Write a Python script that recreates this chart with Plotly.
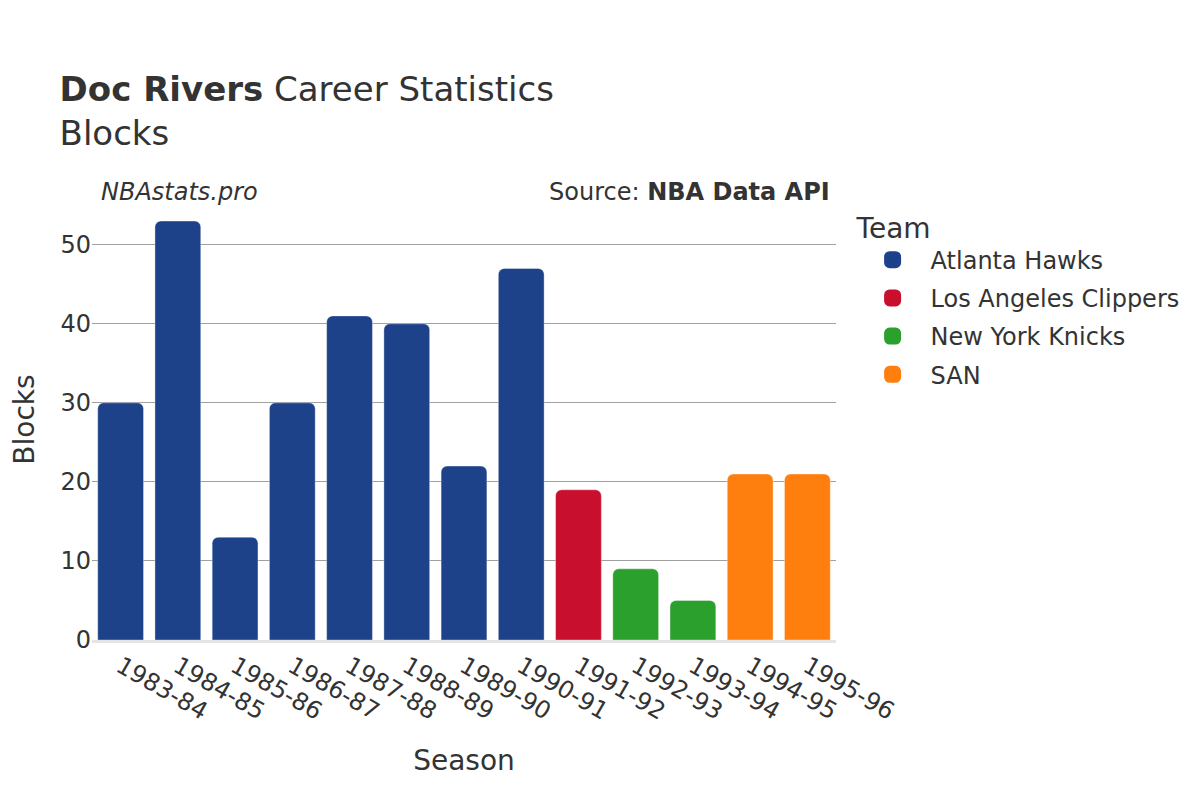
import plotly.graph_objects as go

# Season data by team
hawks_seasons = ['1983-84', '1984-85', '1985-86', '1986-87', '1987-88', '1988-89', '1989-90', '1990-91']
hawks_blocks = [30, 53, 13, 30, 41, 40, 22, 47]
clippers_seasons = ['1991-92']
clippers_blocks = [19]
knicks_seasons = ['1992-93', '1993-94']
knicks_blocks = [9, 5]
san_seasons = ['1994-95', '1995-96']
san_blocks = [21, 21]

teams = [
    ('Atlanta Hawks', hawks_seasons, hawks_blocks, '#1D428A'),
    ('Los Angeles Clippers', clippers_seasons, clippers_blocks, '#C8102E'),
    ('New York Knicks', knicks_seasons, knicks_blocks, '#2CA02C'),
    ('SAN', san_seasons, san_blocks, '#FF7F0E'),
]

fig = go.Figure()
for name, seasons, blocks, color in teams:
    fig.add_trace(go.Bar(
        name=name,
        x=seasons,
        y=blocks,
        legendgroup=name,
        showlegend=False,
        marker=dict(color=color, line=dict(color='rgba(255,255,255,0.35)', width=1)),
    ))
    # legend-only entry with a thicker outline so the key swatch is larger
    fig.add_trace(go.Bar(
        name=name,
        x=[None],
        y=[None],
        legendgroup=name,
        marker=dict(color=color, line=dict(color=color, width=10)),
    ))

font = 'DejaVu Sans'
fig.update_layout(
    width=1200,
    height=800,
    font=dict(family=font, color='#333333', size=24),
    paper_bgcolor='white',
    plot_bgcolor='white',
    title=dict(
        text='<b>Doc Rivers</b> Career Statistics<br>Blocks',
        x=0.043, xanchor='left',
        y=0.884, yanchor='middle',
        font=dict(size=34),
    ),
    margin=dict(l=84, r=372, t=191, b=168, autoexpand=False),
    bargap=0.2,
    barcornerradius=6,
    legend=dict(
        title=dict(text='Team', font=dict(size=28)),
        x=1.025, y=0.995, xanchor='left', yanchor='top',
        font=dict(size=24),
        itemwidth=66,
        tracegroupgap=4,
    ),
    xaxis=dict(
        title=dict(text='Season', font=dict(size=28), standoff=26),
        tickangle=30,
        tickfont=dict(size=24),
        automargin=False,
        categoryorder='array',
        categoryarray=hawks_seasons + clippers_seasons + knicks_seasons + san_seasons,
        showline=True, linecolor='#e5e5e5', linewidth=3,
    ),
    yaxis=dict(
        title=dict(text='Blocks', font=dict(size=28), standoff=40),
        tickfont=dict(size=24),
        gridcolor='#a0a0a0',
        zeroline=False,
        automargin=False,
    ),
    annotations=[
        dict(text='<i>NBAstats.pro</i>', xref='paper', yref='paper',
             x=0.01, y=0.98, xanchor='left', yanchor='bottom',
             showarrow=False, font=dict(size=24)),
        dict(text='Source: <b>NBA Data API</b>', xref='paper', yref='paper',
             x=0.995, y=0.98, xanchor='right', yanchor='bottom',
             showarrow=False, font=dict(size=24)),
    ],
)

fig.write_html('out.html')
